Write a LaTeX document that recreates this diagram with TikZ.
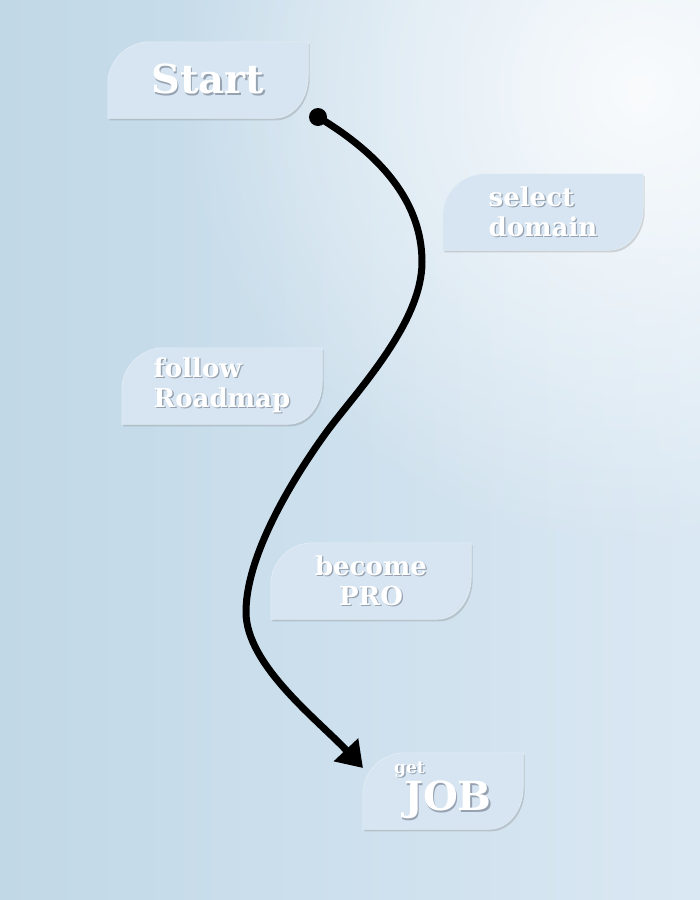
\documentclass[tikz,border=0pt]{standalone}
\usepackage{fontspec}
\setmainfont{DejaVu Serif}
\usetikzlibrary{calc,arrows.meta,shadows,fadings,backgrounds}
\definecolor{bgleft}{RGB}{193,216,231}
\definecolor{bgright}{RGB}{218,232,243}
\definecolor{leaffill}{RGB}{214,229,241}
\definecolor{txtshade}{RGB}{150,162,176}
\tikzfading[name=glow, inner color=transparent!0, outer color=transparent!100]
\def\shadowed#1{\rlap{\kern1.3pt\raisebox{-1.3pt}{\textcolor{txtshade}{#1}}}#1}
\def\leafbox(#1){\fill[leaf] (#1.south west) -- ($(#1.north west)+(0,42)$) .. controls +(0,-23) and +(-23,0) .. ($(#1.north west)+(42,0)$) -- (#1.north east) -- ($(#1.south east)+(0,-42)$) .. controls +(0,23) and +(19,0) .. ($(#1.south east)+(-34,0)$) -- cycle;}

\begin{document}
\begin{tikzpicture}[x=1pt, y=-1pt,
	leaf/.style={fill=leaffill, draw=white!35!leaffill, line width=0.6pt, drop shadow={shadow xshift=1.5pt, shadow yshift=-2.2pt, opacity=.2, fill=black!70}},
	step text/.style={minimum width=200pt, minimum height=76pt, inner sep=0pt, text=white, font=\bfseries\fontsize{26}{30}\selectfont},
	big text/.style={step text, font=\bfseries\fontsize{40}{44}\selectfont}]
		%%%%% START %%%%%
		
		\useasboundingbox (0, 0) rectangle (700, 900);
		
		\node[big text] (start) at (208, 80) {\shadowed{Start}};
		\node[step text, align=left] (domain) at (543, 212) {\shadowed{select}\\\shadowed{domain}};
		\node[step text, align=left] (roadmap) at (222, 386) {\shadowed{follow}\\\shadowed{Roadmap}};
		\node[step text, align=center] (pro) at (371, 581) {\shadowed{become}\\\shadowed{PRO}};
		\node[step text, minimum width=160pt, align=left] (job) at (443, 791) {{\fontsize{17}{17}\selectfont\shadowed{get}}\\[2pt]\hspace*{10pt}{\fontsize{40}{40}\selectfont\shadowed{JOB}}};
		
		\coordinate (go) at (318, 117);
		\coordinate (arrive) at (363, 768);
		
		\begin{scope}[on background layer]
			\shade[left color=bgleft, right color=bgright] (0, 0) rectangle (700, 900);
			\fill[white, path fading=glow, fill opacity=0.85] (640, 90) circle (460pt);
			\leafbox(start)
			\leafbox(domain)
			\leafbox(roadmap)
			\leafbox(pro)
			\leafbox(job)
		\end{scope}
		
		\fill (go) circle (9pt);
		\draw[line width=7pt, -{Triangle[length=25pt, width=32pt]}] (go) .. controls (378, 153) and (422, 200) .. (422, 262) .. controls (422, 322) and (359, 389) .. (328, 430) .. controls (298, 471) and (246, 552) .. (246, 612) .. controls (246, 665) and (318, 720) .. (arrive);
		
		%%%%% END %%%%%
\end{tikzpicture}
\end{document}
